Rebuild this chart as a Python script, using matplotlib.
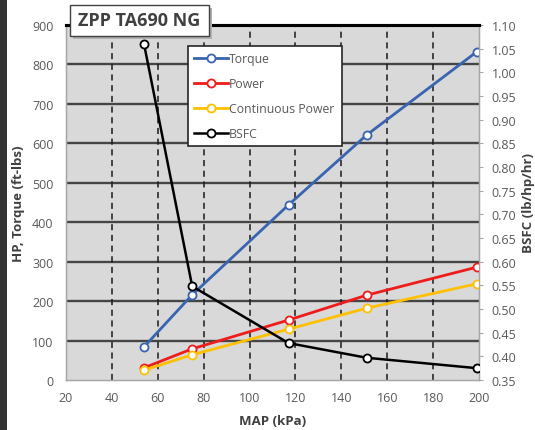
import matplotlib
matplotlib.use("Agg")
import matplotlib.pyplot as plt
from matplotlib.patches import Rectangle

# ---- data ----
map_kpa = [54, 75, 117, 151, 199]
torque = [84, 216, 444, 621, 832]
power = [31, 79, 152, 215, 286]
cont_power = [25, 64, 129, 182, 244]
bsfc = [1.06, 0.548, 0.428, 0.397, 0.375]

x_ticks = [20, 40, 60, 80, 100, 120, 140, 160, 180, 200]
y_left_ticks = [0, 100, 200, 300, 400, 500, 600, 700, 800, 900]
y_right_ticks = [0.35, 0.40, 0.45, 0.50, 0.55, 0.60, 0.65, 0.70, 0.75, 0.80,
                 0.85, 0.90, 0.95, 1.00, 1.05, 1.10]

W, H = 535, 431
plt.rcParams['font.family'] = ['Open Sans', 'DejaVu Sans']
fig = plt.figure(figsize=(W / 100, H / 100), dpi=100)

L, R, T, B = 66, 479, 26, 381
ax = fig.add_axes([L / W, 1 - B / H, (R - L) / W, (B - T) / H])
ax.set_facecolor('#d9d9d9')
ax.set_xlim(20, 200)
ax.set_ylim(0, 900)
ax.set_xticks(x_ticks)
ax.set_yticks(y_left_ticks)

tick_col = '#595959'
ax.tick_params(axis='x', length=0, pad=8, labelsize=9, labelcolor=tick_col)
ax.tick_params(axis='y', length=0, pad=9, labelsize=9, labelcolor=tick_col)

for y in y_left_ticks[1:-1]:
    ax.axhline(y, color='#454545', lw=1.7, zorder=1)
for x in x_ticks[1:-1]:
    ax.axvline(x, color='#1a1a1a', lw=1.1, ls=(0, (4, 3)), zorder=1)

for s in ['left', 'bottom', 'right']:
    ax.spines[s].set_color('#a6a6a6')
    ax.spines[s].set_linewidth(1)
ax.spines['top'].set_color('black')
ax.spines['top'].set_linewidth(2.2)

mk = dict(marker='o', markersize=5.8, markerfacecolor='white', markeredgewidth=1.3)
l1, = ax.plot(map_kpa, torque, color='#3864b0', lw=2, markeredgecolor='#3864b0', zorder=3, label='Torque', **mk)
l2, = ax.plot(map_kpa, power, color='#ee1c1c', lw=2, markeredgecolor='#ee1c1c', zorder=3, label='Power', **mk)
l3, = ax.plot(map_kpa, cont_power, color='#ffc000', lw=2, markeredgecolor='#ffc000', zorder=3, label='Continuous Power', **mk)

ax2 = ax.twinx()
ax2.set_ylim(0.35, 1.10)
ax2.set_yticks(y_right_ticks)
ax2.set_yticklabels([f"{v:.2f}" for v in y_right_ticks])
ax2.tick_params(axis='y', length=3, pad=6, labelsize=9, labelcolor=tick_col, color='#a6a6a6')
for s in ['left', 'bottom', 'right']:
    ax2.spines[s].set_color('#a6a6a6')
ax2.spines['top'].set_color('black')
ax2.spines['top'].set_linewidth(2.2)
l4, = ax2.plot(map_kpa, bsfc, color='black', lw=1.8, markeredgecolor='black', zorder=3, label='BSFC', **mk)

ax.set_ylabel('HP, Torque (ft-lbs)', fontsize=9.5, fontweight='bold', color='#404040', labelpad=5)
ax.set_xlabel('MAP (kPa)', fontsize=9.5, fontweight='bold', color='#404040', labelpad=7)
ax2.set_ylabel('BSFC (lb/hp/hr)', fontsize=9.5, fontweight='bold', color='#404040', labelpad=4)

leg = ax2.legend(handles=[l1, l2, l3, l4], loc='upper left',
                 bbox_to_anchor=(188 / W, 1 - 144 / H, (342 - 188) / W, (144 - 47) / H),
                 bbox_transform=fig.transFigure, mode='expand',
                 fontsize=8.8, frameon=True, fancybox=False, framealpha=1,
                 edgecolor='#262626', labelcolor='#595959', handlelength=2.8,
                 handletextpad=0.05, labelspacing=0.98, borderpad=0.5, borderaxespad=0)
leg.get_frame().set_linewidth(1.2)

# title box with shadow
bx0, by0, bx1, by1 = 70, 6, 209, 37
fig.add_artist(Rectangle(((bx0 + 3) / W, 1 - (by1 + 3) / H), (bx1 - bx0) / W, (by1 - by0) / H,
                         transform=fig.transFigure, facecolor='#b0b0b0', edgecolor='none', zorder=10))
fig.add_artist(Rectangle((bx0 / W, 1 - by1 / H), (bx1 - bx0) / W, (by1 - by0) / H,
                         transform=fig.transFigure, facecolor='white', edgecolor='#404040', lw=1, zorder=11))
fig.text((bx0 + bx1) / 2 / W, 1 - (by0 + by1) / 2 / H, 'ZPP TA690 NG', ha='center', va='center',
         fontsize=13, fontweight='bold', color='#404040', zorder=12)

# dark strip at left edge
fig.add_artist(Rectangle((0, 0), 7 / W, 1, transform=fig.transFigure,
                         facecolor='#333333', edgecolor='none', zorder=10))

fig.savefig('out.png', dpi=100)
